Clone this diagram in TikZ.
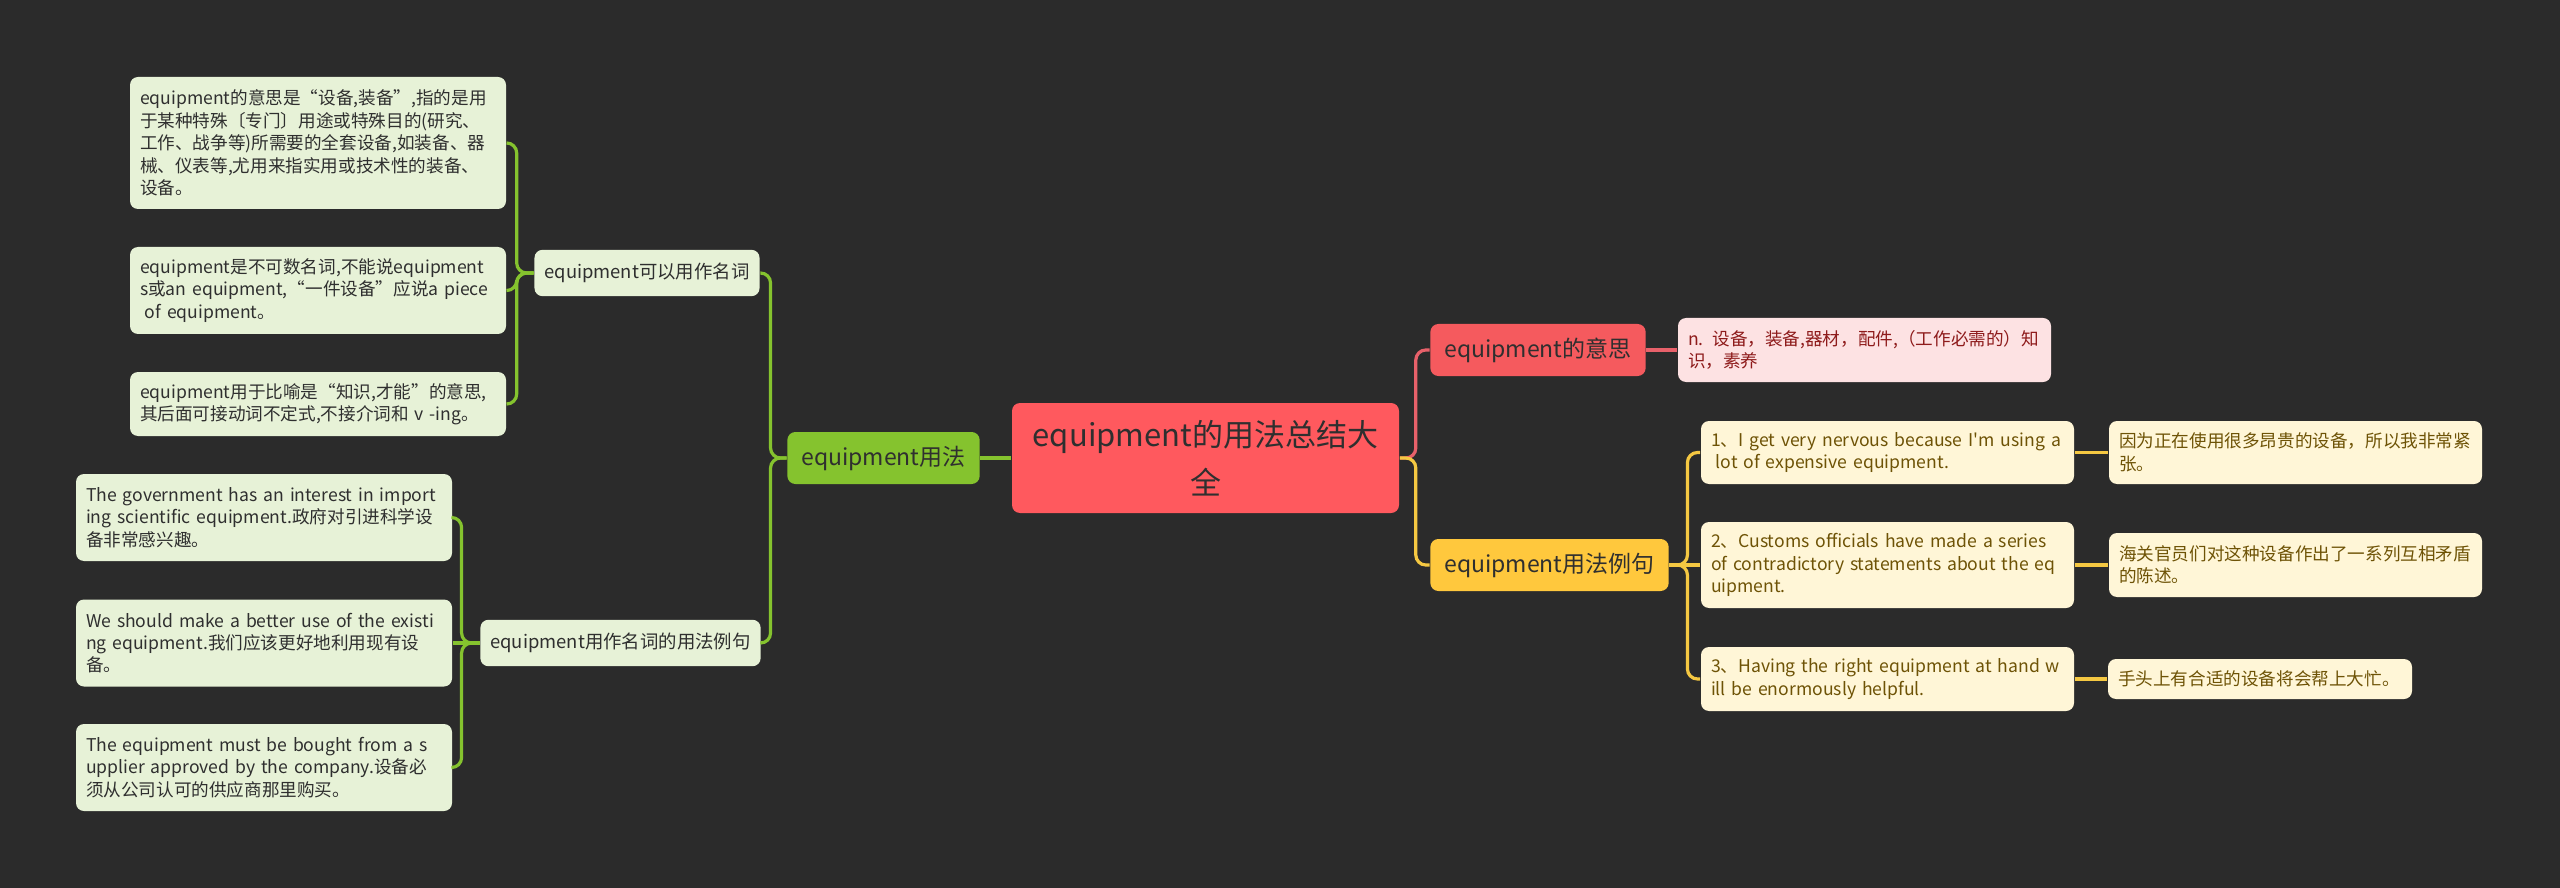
\documentclass[tikz,border=0pt]{standalone}
\usepackage{fontspec}
\setmainfont{Noto Sans CJK SC}[Ligatures=TeXOff]
\usepackage{tikz}

\definecolor{bgc}{HTML}{2B2B2B}
\definecolor{topicred}{HTML}{FF595E}
\definecolor{darktext}{HTML}{2F2F2F}
\definecolor{grn}{HTML}{85C32E}
\definecolor{lightgrn}{HTML}{E7F2D7}
\definecolor{redbr}{HTML}{F55A5E}
\definecolor{redline}{HTML}{E8616A}
\definecolor{pink}{HTML}{FDE2E3}
\definecolor{pinktext}{HTML}{8E1B1B}
\definecolor{yel}{HTML}{FFC83D}
\definecolor{yelline}{HTML}{F5C842}
\definecolor{lightyel}{HTML}{FFF6D7}
\definecolor{yeltext}{HTML}{6E5306}

\begin{document}
\begin{tikzpicture}[x=0.25pt, y=-0.25pt,
  topic/.style = {fill=topicred, text=darktext, rounded corners=2pt, align=center, font=\fontsize{7.75}{12}\selectfont, minimum width=96.75pt, minimum height=27.5pt},
  branch/.style = {fill=#1, text=darktext, rounded corners=2pt, font=\fontsize{5.75}{7}\selectfont, minimum height=13pt, inner xsep=3.5pt},
  subbr/.style = {fill=lightgrn, text=darktext, rounded corners=2pt, font=\fontsize{4.6}{5.6}\selectfont, minimum height=10pt, inner xsep=2.5pt},
  leafbox/.style = {fill=#1, rounded corners=2pt, align=left, font=\fontsize{4.4}{5.6}\selectfont, inner xsep=2.5pt, inner ysep=2pt},
  gline/.style = {draw=grn, line width=0.8pt, rounded corners=2.5pt},
  rline/.style = {draw=redline, line width=0.8pt, rounded corners=2.5pt},
  yline/.style = {draw=yelline, line width=0.8pt, rounded corners=2.5pt}]
  \fill[bgc] (0,0) rectangle (2560,888);

  % centre and left half
  \node[topic] (root) at (1205.5,458) {equipment的用法总结大\\全};
  \node[branch=grn, minimum width=47.25pt] (use) at (883.5,458) {equipment用法};
  \node[subbr, minimum width=54.5pt] (noun) at (647,273) {equipment可以用作名词};
  \node[subbr, minimum width=67.75pt] (usage) at (620.5,643) {equipment用作名词的用法例句};

  \node[leafbox=lightgrn, text=darktext, text width=89pt, minimum height=33pt] (na) at (318,143) {equipment的意思是“设备,装备”,指的是用\\于某种特殊〔专门〕用途或特殊目的(研究、\\工作、战争等)所需要的全套设备,如装备、器\\械、仪表等,尤用来指实用或技术性的装备、\\设备。};
  \node[leafbox=lightgrn, text=darktext, text width=89pt, minimum height=21.75pt] (nb) at (318,290.5) {equipment是不可数名词,不能说equipment\\s或an equipment,“一件设备”应说a piece\\\hspace*{1.2pt}of equipment。};
  \node[leafbox=lightgrn, text=darktext, text width=89pt, minimum height=16pt] (nc) at (318,404) {equipment用于比喻是“知识,才能”的意思,\\其后面可接动词不定式,不接介词和 v -ing。};

  \node[leafbox=lightgrn, text=darktext, text width=89pt, minimum height=21.75pt] (ua) at (264,517.5) {The government has an interest in import\\ing scientific equipment.政府对引进科学设\\备非常感兴趣。};
  \node[leafbox=lightgrn, text=darktext, text width=89pt, minimum height=21.75pt] (ub) at (264,643) {We should make a better use of the existi\\ng equipment.我们应该更好地利用现有设\\备。};
  \node[leafbox=lightgrn, text=darktext, text width=89pt, minimum height=21.75pt] (uc) at (264,767.5) {The equipment must be bought from a s\\upplier approved by the company.设备必\\须从公司认可的供应商那里购买。};

  % right half
  \node[branch=redbr, minimum width=53pt] (mean) at (1538,350) {equipment的意思};
  \node[leafbox=pink, text=pinktext, text width=88.25pt, minimum height=16pt] (def) at (1864.5,350) {n. 设备，装备,器材，配件,（工作必需的）知\\识，素养};
  \node[branch=yel, minimum width=58.25pt] (sent) at (1549.5,565) {equipment用法例句};

  \node[leafbox=lightyel, text=yeltext, text width=88.25pt, minimum height=15.75pt] (sa) at (1887.5,452.5) {1、I get very nervous because I'm using a\\\hspace*{1.2pt}lot of expensive equipment.};
  \node[leafbox=lightyel, text=yeltext, text width=88.25pt, minimum height=21.5pt] (sb) at (1887.5,565) {2、Customs officials have made a series\\of contradictory statements about the eq\\uipment.};
  \node[leafbox=lightyel, text=yeltext, text width=88.25pt, minimum height=16pt] (sc) at (1887.5,679) {3、Having the right equipment at hand w\\ill be enormously helpful.};

  \node[leafbox=lightyel, text=yeltext, text width=88.25pt, minimum height=15.75pt] (ta) at (2295.5,452.5) {因为正在使用很多昂贵的设备，所以我非常紧\\张。};
  \node[leafbox=lightyel, text=yeltext, text width=88.25pt, minimum height=16pt] (tb) at (2295.5,565) {海关官员们对这种设备作出了一系列互相矛盾\\的陈述。};
  \node[leafbox=lightyel, text=yeltext, text width=71pt, minimum height=10pt] (tc) at (2260,679) {手头上有合适的设备将会帮上大忙。};

  % connectors
  \draw[gline] (root.west) -- (use.east);
  \draw[gline] (use.west) -- ++(-16,0) |- (noun.east);
  \draw[gline] (use.west) -- ++(-16,0) |- (usage.east);
  \draw[gline] (noun.west) -- ++(-17,0) |- (na.east);
  \draw[gline] (noun.west) -- ++(-17,0) |- (nb.east);
  \draw[gline] (noun.west) -- ++(-17,0) |- (nc.east);
  \draw[gline] (usage.west) -- ++(-18,0) |- (ua.east);
  \draw[gline] (usage.west) -- (ub.east);
  \draw[gline] (usage.west) -- ++(-18,0) |- (uc.east);

  \draw[rline] (root.east) -- ++(16,0) |- (mean.west);
  \draw[rline] (mean.east) -- (def.west);
  \draw[yline] (root.east) -- ++(16,0) |- (sent.west);
  \draw[yline] (sent.east) -- ++(18,0) |- (sa.west);
  \draw[yline] (sent.east) -- (sb.west);
  \draw[yline] (sent.east) -- ++(18,0) |- (sc.west);
  \draw[yline] (sa.east) -- (ta.west);
  \draw[yline] (sb.east) -- (tb.west);
  \draw[yline] (sc.east) -- (tc.west);
\end{tikzpicture}
\end{document}
